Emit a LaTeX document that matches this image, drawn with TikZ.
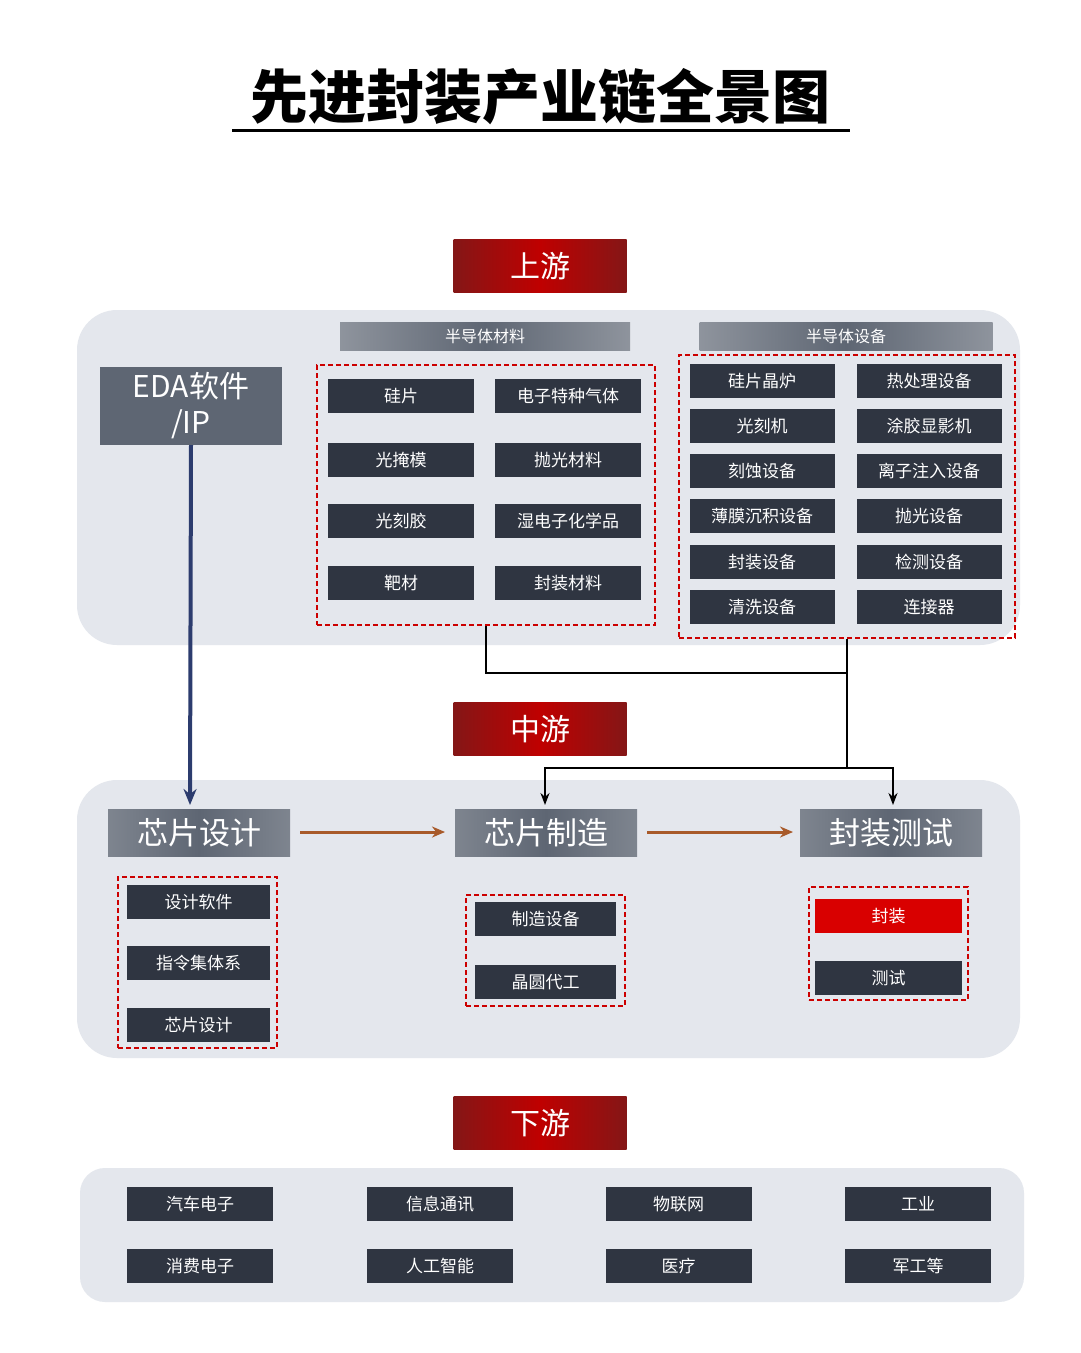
\documentclass[tikz,border=0pt]{standalone}
\usepackage{fontspec}
\setmainfont{Noto Sans CJK SC}
\newfontfamily\cjk{Noto Sans CJK SC}
\usetikzlibrary{arrows.meta}
\definecolor{panel}{HTML}{E4E7ED}
\definecolor{itemc}{HTML}{2F3541}
\definecolor{slate}{HTML}{5E6673}
\definecolor{dred}{HTML}{A51C1C}
\definecolor{brownc}{HTML}{A85A2A}
\definecolor{bluec}{HTML}{2C3C6E}
\tikzset{
 item/.style={fill=itemc,text=white,minimum width=146pt,minimum height=34pt,inner sep=0pt,font=\fontsize{17}{17}\selectfont},
 banner/.style={left color=dred!80!black,right color=dred!80!black,middle color=red!75!black,text=white,minimum width=173pt,minimum height=53pt,inner sep=0pt,font=\fontsize{30}{30}\selectfont},
 hdr/.style={left color=slate!70,right color=slate!70,middle color=slate,text=white,minimum height=28pt,inner sep=0pt,font=\fontsize{16}{16}\selectfont},
 stage/.style={left color=slate!80,right color=slate!80,middle color=slate,text=white,minimum width=182pt,minimum height=47pt,inner sep=0pt,font=\fontsize{31}{31}\selectfont},
 rdash/.style={draw=red!80!black,line width=2.6pt,dash pattern=on 5pt off 3pt},
 panelbox/.style={fill=panel,rounded corners=40pt},
 conn/.style={line width=2pt,-{Stealth[length=12pt,width=9pt]}},
}
\begin{document}
\begin{tikzpicture}[x=1pt,y=-1pt]
\useasboundingbox (0,0) rectangle (1080,1353);
\fill[white] (0,0) rectangle (1080,1353);
\node (title) at (540,97) {\fontsize{58}{58}\selectfont\bfseries 先进封装产业链全景图};
\draw[line width=3pt] (232,130) -- (850,130);
% upper
\node[banner] (up) at (540,266) {上游};
\fill[panelbox] (77,310) rectangle (1020,645);
\node[fill=slate,text=white,minimum width=182pt,minimum height=78pt,inner sep=0pt,align=center,font=\fontsize{30}{36}\selectfont] (eda) at (191,406) {EDA软件\\/IP};
\node[hdr,minimum width=290pt] (mat) at (485,336) {半导体材料};
\node[hdr,minimum width=293pt] (eqp) at (846,336) {半导体设备};
\node[rdash,minimum width=338pt,minimum height=260pt] (matbox) at (486,495) {};
\node[rdash,minimum width=336pt,minimum height=283pt] (eqbox) at (847,496.5) {};
\foreach \a/\b/\y [count=\i] in {硅片/电子特种气体/396,光掩模/抛光材料/460,光刻胶/湿电子化学品/521,靶材/封装材料/583}{
 \node[item] (ma\i) at (401,\y) {\a};
 \node[item] (mb\i) at (568,\y) {\b};}
\foreach \a/\b/\y [count=\i] in {硅片晶炉/热处理设备/381,光刻机/涂胶显影机/426,刻蚀设备/离子注入设备/471,薄膜沉积设备/抛光设备/516,封装设备/检测设备/562,清洗设备/连接器/607}{
 \node[item,minimum width=145pt] (ea\i) at (762,\y) {\a};
 \node[item,minimum width=145pt] (eb\i) at (929,\y) {\b};}
% middle
\node[banner] (mid) at (540,729) {中游};
\fill[panelbox] (77,780) rectangle (1020,1058);
\node[stage] (s1) at (199,833) {芯片设计};
\node[stage] (s2) at (546,833) {芯片制造};
\node[stage] (s3) at (891,833) {封装测试};
\coordinate (j1) at (486,673);
\coordinate (j2) at (847,673);
\coordinate (j3) at (847,768);
\coordinate (j4) at (545,768);
\coordinate (j5) at (893,768);
\draw[line width=2pt] (matbox.south) -- (j1) -- (j2);
\draw[line width=2pt] (eqbox.south) -- (j3);
\draw[conn] (j3) -- (j4) -- (545,805);
\draw[conn] (j3) -- (j5) -- (893,805);
\draw[line width=4pt,draw=bluec,-{Stealth[length=16pt,width=13pt]}] (eda.south) -- (190,805);
\draw[line width=3pt,draw=brownc,-{Stealth[length=13pt,width=11pt]}] (300,832) -- (445,832);
\draw[line width=3pt,draw=brownc,-{Stealth[length=13pt,width=11pt]}] (647,832) -- (793,832);
\node[rdash,minimum width=159pt,minimum height=171pt] (d1) at (197.5,962.5) {};
\node[rdash,minimum width=159pt,minimum height=111pt] (d2) at (545.5,950.5) {};
\node[rdash,minimum width=159pt,minimum height=113pt] (d3) at (888.5,943.5) {};
\node[item,minimum width=143pt] (c1) at (198.5,902) {设计软件};
\node[item,minimum width=143pt] (c2) at (198.5,963) {指令集体系};
\node[item,minimum width=143pt] (c3) at (198.5,1025) {芯片设计};
\node[item,minimum width=141pt] (f1) at (545.5,919) {制造设备};
\node[item,minimum width=141pt] (f2) at (545.5,982) {晶圆代工};
\node[item,minimum width=147pt,fill=red!85!black] (p1) at (888.5,916) {封装};
\node[item,minimum width=147pt] (p2) at (888.5,978) {测试};
% lower
\node[banner] (down) at (540,1123) {下游};
\fill[panelbox,rounded corners=25pt] (80,1168) rectangle (1024,1302);
\foreach \a/\b/\x [count=\i] in {汽车电子/消费电子/200,信息通讯/人工智能/440,物联网/医疗/678.5,工业/军工等/918}{
 \node[item] (da\i) at (\x,1204) {\a};
 \node[item] (db\i) at (\x,1266) {\b};}
\end{tikzpicture}
\end{document}
